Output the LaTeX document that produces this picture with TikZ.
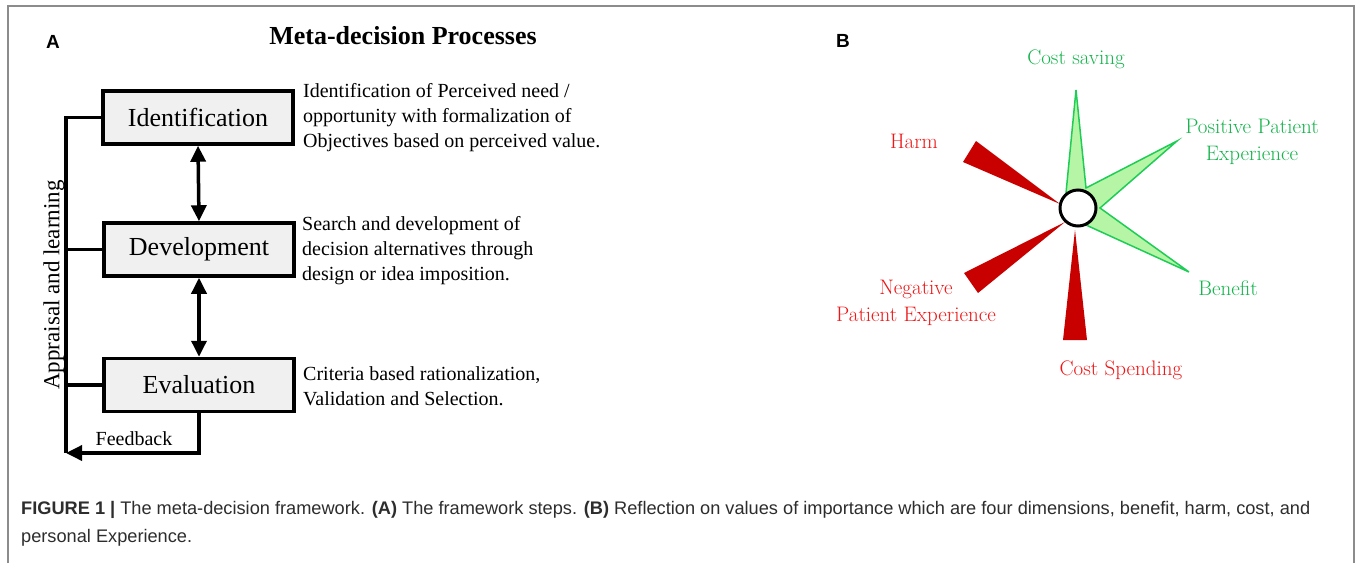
\documentclass[tikz,border=0pt]{standalone}
\usepackage{fontspec}
\newfontfamily\timesfont{Liberation Serif}
\newfontfamily\arialfont{Liberation Sans}
\usetikzlibrary{arrows.meta}

\definecolor{boxgray}{RGB}{240,240,240}
\definecolor{framegray}{RGB}{140,140,140}
\definecolor{capgray}{RGB}{45,45,45}
\definecolor{gooddark}{RGB}{30,205,85}
\definecolor{goodfill}{RGB}{182,245,165}
\definecolor{goodtext}{RGB}{20,180,75}
\definecolor{baddark}{RGB}{200,0,0}
\definecolor{badtext}{RGB}{238,22,22}

\begin{document}
\begin{tikzpicture}[x=1pt, y=-1pt,
    procbox/.style={draw, line width=3.5pt, fill=boxgray, minimum width=190pt,
        minimum height=53pt, inner sep=0pt, font=\timesfont\fontsize{26}{29}\selectfont},
    desc/.style={anchor=west, align=left, inner sep=0pt,
        font=\timesfont\fontsize{20}{25}\selectfont},
    link/.style={line width=3.5pt},
    dbl/.style={line width=3.5pt,
        {Triangle[width=15pt,length=16pt]}-{Triangle[width=15pt,length=16pt]}},
    panel/.style={font=\arialfont\bfseries\fontsize{19}{22}\selectfont},
    good/.style={goodtext, align=center, font=\fontsize{21}{27}\selectfont},
    bad/.style={badtext, align=center, font=\fontsize{21}{27}\selectfont}]
    \useasboundingbox (0,0) rectangle (1357,563);
    \fill[white] (0,0) rectangle (1357,563);

    % Outer frame, open at the bottom
    \draw[framegray, line width=1.3pt] (8,563) -- (8,6) -- (1354,6) -- (1354,563);

    % Panel A: the three steps
    \node[panel] (labA) at (53,42) {A};
    \node[font=\timesfont\bfseries\fontsize{26}{30}\selectfont] (title) at (403,36) {Meta-decision Processes};

    \node[procbox] (ident) at (198,117.5) {Identification};
    \node[procbox] (devel) at (199,249.5) {Development};
    \node[procbox] (evalu) at (199,385) {Evaluation};

    \draw[dbl] (ident.south) -- (devel.north);
    \draw[dbl] (devel.south) -- (evalu.north);

    % Appraisal bus on the left and feedback loop
    \coordinate (fbend) at (66,453);
    \draw[link] (ident.west) -| (fbend);
    \draw[link] (devel.west) -- (devel.west -| fbend);
    \draw[link] (evalu.west) -- (evalu.west -| fbend);
    \draw[link, -{Triangle[width=15pt,length=16pt]}] (evalu.south) |- (fbend);

    \node[font=\timesfont\fontsize{20}{22}\selectfont] (fb) at (134,439) {Feedback};
    \node[rotate=90, font=\timesfont\fontsize{23}{26}\selectfont] (appr) at (54,285) {Appraisal and learning};

    \node[desc] (dident) at (303,118) {Identification of Perceived need /\\opportunity with formalization of\\Objectives based on perceived value.};
    \node[desc] (ddevel) at (302,251) {Search and development of\\decision alternatives through\\design or idea imposition.};
    \node[desc] (devalu) at (303,386) {Criteria based rationalization,\\Validation and Selection.};

    % Panel B: value star
    \node[panel] (labB) at (843,41) {B};

    \filldraw[draw=gooddark, fill=goodfill, line width=1.5pt, line join=miter]
        (1066,193) -- (1076,90) -- (1086,188) -- (1177,141) -- (1100,208)
        -- (1189,272) -- (1086,225) -- (1078,208) -- cycle;

    \fill[baddark] (963,162) -- (976,141) -- (1060,204) -- cycle;
    \fill[baddark] (964,273) -- (978,293) -- (1065,222) -- cycle;
    \fill[baddark] (1063,340) -- (1087,340) -- (1075,230) -- cycle;

    \node[circle, draw, fill=white, line width=3pt, minimum size=36pt, inner sep=0pt] (hub) at (1078,208) {};

    \node[good] (csave) at (1076,59) {Cost saving};
    \node[good] (ppe) at (1252,142) {Positive Patient\\Experience};
    \node[good] (benef) at (1228,288) {Benefit};
    \node[bad] (harm) at (914,141) {Harm};
    \node[bad] (npe) at (916,303) {Negative\\Patient Experience};
    \node[bad] (cspend) at (1121,370) {Cost Spending};

    % Caption
    \node[anchor=north west, align=left, inner sep=0pt, capgray,
        font=\arialfont\fontsize{18.2}{28}\selectfont] (cap) at (21,501)
        {\textbf{FIGURE 1 |} The meta-decision framework. \textbf{(A)} The framework steps. \textbf{(B)} Reflection on values of importance which are four dimensions, benefit, harm, cost, and\\personal Experience.};
\end{tikzpicture}
\end{document}
